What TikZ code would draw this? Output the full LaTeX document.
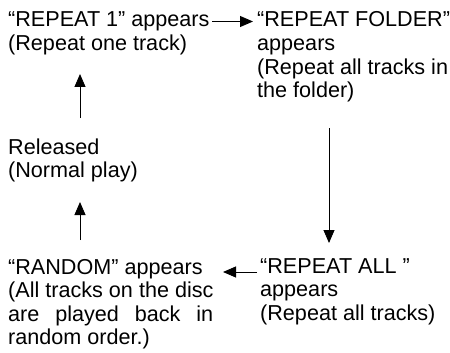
\documentclass[tikz,border=0pt]{standalone}
\usepackage{fontspec}
\setmainfont{Liberation Sans}
\usetikzlibrary{arrows.meta}
\tikzset{
MyTextStyle/.style ={anchor=base west, inner sep=0pt, align=left,
                     font=\fontsize{21.6pt}{23.5pt}\selectfont},
MyArrowStyle/.style={line width=0.9pt,
                     -{Triangle[length=13pt, width=11pt]}},
}
\begin{document}
\begin{tikzpicture}[x=1pt, y=-1pt]
\useasboundingbox (0,0) rectangle (450,353);
\begin{scope}[MyTextStyle]  % texts (base = last line)
\node (rep1)   at (8,50.5)    {“REPEAT 1” appears\\(Repeat one track)};
\node (folder) at (257,97.5)  {“REPEAT FOLDER”\\appears\\(Repeat all tracks in\\the folder)};
\node (normal) at (8,177.5)   {Released\\(Normal play)};
\node (random) at (8,344.5)   {“RANDOM” appears\\(All tracks on the disc\\\makebox[205pt][s]{are played back in}\\random order.)};
\node (all)    at (260,320)   {“REPEAT ALL ”\\appears\\(Repeat all tracks)};
\end{scope}

\begin{scope}[MyArrowStyle]  % arrows
\draw ([xshift=204pt, yshift=29pt]rep1.base west) -- ([xshift=-4pt, yshift=76pt]folder.base west);
\draw ([xshift=72pt, yshift=-30.5pt]folder.base west) -- ([xshift=69pt, yshift=77pt]all.base west);
\draw ([xshift=-3pt, yshift=48pt]all.base west) -- ([xshift=215pt, yshift=72.5pt]random.base west);
\draw ([xshift=72pt, yshift=104.5pt]random.base west) -- ([xshift=72pt, yshift=-24.5pt]normal.base west);
\draw ([xshift=72pt, yshift=59.5pt]normal.base west) -- ([xshift=72pt, yshift=-23.5pt]rep1.base west);
\end{scope}
\end{tikzpicture}
\end{document}
